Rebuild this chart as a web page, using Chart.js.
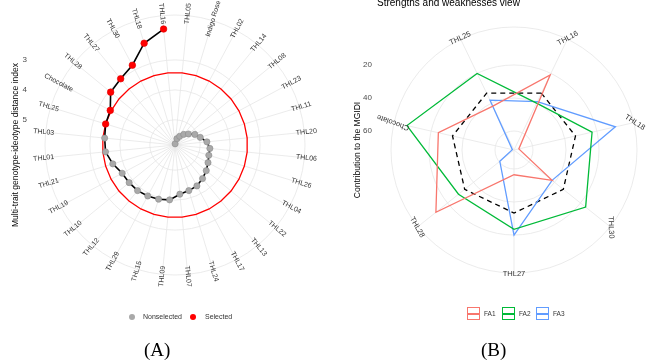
<!DOCTYPE html>
<html><head><meta charset="utf-8">
<script src="https://cdn.jsdelivr.net/npm/chart.js@4.4.1/dist/chart.umd.min.js"></script>
<style>
html,body{margin:0;padding:0;background:#fff;}
#wrap{position:relative;width:671px;height:363px;overflow:hidden;font-family:"Liberation Sans",Arial,sans-serif;}
canvas{position:absolute;top:0;}
.t{position:absolute;white-space:nowrap;color:#333;}
.dot{position:absolute;width:6px;height:6px;border-radius:50%;}
.key{position:absolute;width:11px;height:11px;box-sizing:content-box;}
.key i{position:absolute;left:0;right:0;top:5px;height:1.5px;}
.cap{position:absolute;font-family:"Liberation Serif","Times New Roman",serif;font-size:19px;line-height:20px;color:#000;}
.ytitle{position:absolute;width:240px;text-align:center;font-size:8.5px;line-height:10px;color:#000;transform:rotate(-90deg);}
</style></head>
<body><div id="wrap">
<canvas id="cA" width="345" height="363" style="left:0"></canvas>
<canvas id="cB" width="326" height="363" style="left:345px"></canvas>
<div class="ytitle" style="left:-105px;top:140px;">Multi-trait genotype-ideotype distance index</div>
<div class="ytitle" style="left:237px;top:145px;">Contribution to the MGIDI</div>
<div class="t" style="left:377px;top:-2.5px;font-size:10px;line-height:10px;color:#000;">Strengths and weaknesses view</div>
<div class="dot" style="left:129px;top:314px;background:#a9a9a9;"></div>
<div class="t" style="left:143px;top:312px;font-size:7px;line-height:9px;">Nonselected</div>
<div class="dot" style="left:190px;top:314px;background:#ff0000;"></div>
<div class="t" style="left:205px;top:312px;font-size:7px;line-height:9px;">Selected</div>
<div class="key" style="left:467px;top:307px;border:1.5px solid #F8766D;"><i style="background:#F8766D"></i></div>
<div class="t" style="left:484px;top:309px;font-size:6.5px;line-height:9px;">FA1</div>
<div class="key" style="left:502px;top:307px;border:1.5px solid #00BA38;"><i style="background:#00BA38"></i></div>
<div class="t" style="left:519px;top:309px;font-size:6.5px;line-height:9px;">FA2</div>
<div class="key" style="left:536px;top:307px;border:1.5px solid #619CFF;"><i style="background:#619CFF"></i></div>
<div class="t" style="left:553px;top:309px;font-size:6.5px;line-height:9px;">FA3</div>
<div class="cap" style="left:144px;top:340px;">(A)</div>
<div class="cap" style="left:481px;top:340px;">(B)</div>
</div>
<script>
// ---------- Panel A data (clockwise from top) ----------
const genotypes = ["THL16","THL05","Indigo Rose","THL02","THL14","THL08","THL23","THL11","THL20","THL06","THL26","THL04","THL22","THL13","THL17","THL24","THL07","THL09","THL15","THL29","THL12","THL10","THL19","THL21","THL01","THL03","THL25","Chocolate","THL28","THL27","THL30","THL18"];
const mgidi = [1.95,5.80,5.62,5.51,5.38,5.26,5.09,4.96,4.77,4.67,4.66,4.59,4.49,4.39,4.29,4.25,4.19,4.00,3.95,3.91,3.87,3.86,3.84,3.67,3.51,3.48,3.42,3.39,3.06,2.98,2.82,2.29];
const selected = ["THL16","THL18","THL30","THL27","THL28","Chocolate","THL25"];
const cutoff = 3.42;
const ticksA = [3,4,5];

// ---------- Panel B data (clockwise) ----------
const selGenotypes = ["THL16","THL18","THL30","THL27","THL28","Chocolate","THL25"];
const fa1 = [21,68.5,42,56.5,11,24.5,42];
const fa2 = [40,23,16,23.5,28.5,5,20];
const fa3 = [39,8.5,42,20,60.5,70.5,38];
const equalContribution = [33.3,33.3,33.3,33.3,33.3,33.3,33.3];
const ticksB = [20,40,60];

const GRID = '#e6e6e6';
const radialText = {
  id:'radialText',
  afterDraw(chart, args, o){
    const s = chart.scales.r, ctx = chart.ctx, n = chart.data.labels.length;
    ctx.save();
    ctx.fillStyle = o.color; ctx.textAlign='center'; ctx.textBaseline='middle';
    ctx.font = o.font;
    chart.data.labels.forEach((lab,i)=>{
      const p = s.getPointPosition(i, s.drawingArea + o.offset);
      let th = (o.start + i*360/n) % 360; if (th<0) th+=360;
      const rot = o.rot ? o.rot[i] : (th<180 ? th-90 : th-270);
      ctx.save(); ctx.translate(p.x,p.y); ctx.rotate(rot*Math.PI/180); ctx.fillText(lab,0,0); ctx.restore();
    });
    ctx.font = o.tickFont; ctx.fillStyle = o.tickColor; ctx.textAlign='right';
    o.ticks.forEach(v=>{
      const y = s.yCenter - s.getDistanceFromCenterForValue(v);
      ctx.fillText(String(v), o.tickX, y);
    });
    ctx.restore();
  }
};

// Panel A datasets
const pathMain = mgidi.map((v,i)=> i===1 ? null : v);
const pathGap = mgidi.map((v,i)=> (i===1||i===2) ? v : null);
const selVals = mgidi.map((v,i)=> selected.includes(genotypes[i]) ? v : null);
const nonVals = mgidi.map((v,i)=> selected.includes(genotypes[i]) ? null : v);
const cutVals = genotypes.map(()=>cutoff);
const NOFILL = {fill:false, backgroundColor:'rgba(0,0,0,0)'};

const startA = -360/genotypes.length/2;
new Chart(document.getElementById('cA'), {
  type:'radar',
  data:{labels:genotypes, datasets:[
    {label:'Selected', data:selVals, showLine:false, ...NOFILL, pointRadius:3.3, pointBackgroundColor:'#ff0000', pointBorderColor:'#e00000', pointBorderWidth:0.6},
    {label:'Nonselected', data:nonVals, showLine:false, ...NOFILL, pointRadius:3.1, pointBackgroundColor:'#a9a9a9', pointBorderColor:'#8c8c8c', pointBorderWidth:0.6},
    {data:pathMain, ...NOFILL, borderColor:'#000', borderWidth:1.6, pointRadius:0, spanGaps:false},
    {data:pathGap, ...NOFILL, borderColor:'#000', borderWidth:1.6, pointRadius:0, spanGaps:false},
    {data:cutVals, ...NOFILL, borderColor:'#ff0000', borderWidth:1.3, pointRadius:0}
  ]},
  options:{
    responsive:false, animation:false, events:[], devicePixelRatio:1,
    layout:{padding:{left:45,top:15,right:40,bottom:88}},
    plugins:{legend:{display:false}, tooltip:{enabled:false},
      radialText:{font:'7px "Liberation Sans", Arial', color:'#333', offset:2, start:startA,
        ticks:ticksA, tickX:27, tickFont:'8px "Liberation Sans", Arial', tickColor:'#4d4d4d'}},
    scales:{r:{reverse:true, min:1.5, max:5.84, startAngle:startA,
      afterBuildTicks:s=>{ s.ticks=[5.84,5,4,3,1.5].map(v=>({value:v})); },
      ticks:{display:false}, pointLabels:{display:false},
      grid:{circular:true, color:GRID, lineWidth:0.8},
      angleLines:{color:GRID, lineWidth:0.8}}}
  },
  plugins:[radialText]
});

const startB = 360/selGenotypes.length/2;
new Chart(document.getElementById('cB'), {
  type:'radar',
  data:{labels:selGenotypes, datasets:[
    {label:'FA1', data:fa1, ...NOFILL, borderColor:'#F8766D', borderWidth:1.3, pointRadius:0},
    {label:'FA2', data:fa2, ...NOFILL, borderColor:'#00BA38', borderWidth:1.3, pointRadius:0},
    {label:'FA3', data:fa3, ...NOFILL, borderColor:'#619CFF', borderWidth:1.3, pointRadius:0},
    {data:equalContribution, ...NOFILL, borderColor:'#000', borderWidth:1.3, borderDash:[5,4], pointRadius:0}
  ]},
  options:{
    responsive:false, animation:false, events:[], devicePixelRatio:1,
    layout:{padding:{left:46,top:27,right:34,bottom:90}},
    plugins:{legend:{display:false}, tooltip:{enabled:false},
      radialText:{font:'7.5px "Liberation Sans", Arial', color:'#333', offset:1, start:startB,
        rot:[-28,33,88,0,60,200,-25],
        ticks:ticksB, tickX:27, tickFont:'8px "Liberation Sans", Arial', tickColor:'#4d4d4d'}},
    scales:{r:{reverse:true, min:-3, max:71.5, startAngle:startB,
      afterBuildTicks:s=>{ s.ticks=[71.5,60,40,20,-3].map(v=>({value:v})); },
      ticks:{display:false}, pointLabels:{display:false},
      grid:{circular:true, color:GRID, lineWidth:0.8},
      angleLines:{color:GRID, lineWidth:0.8}}}
  },
  plugins:[radialText]
});
</script>
</body></html>
